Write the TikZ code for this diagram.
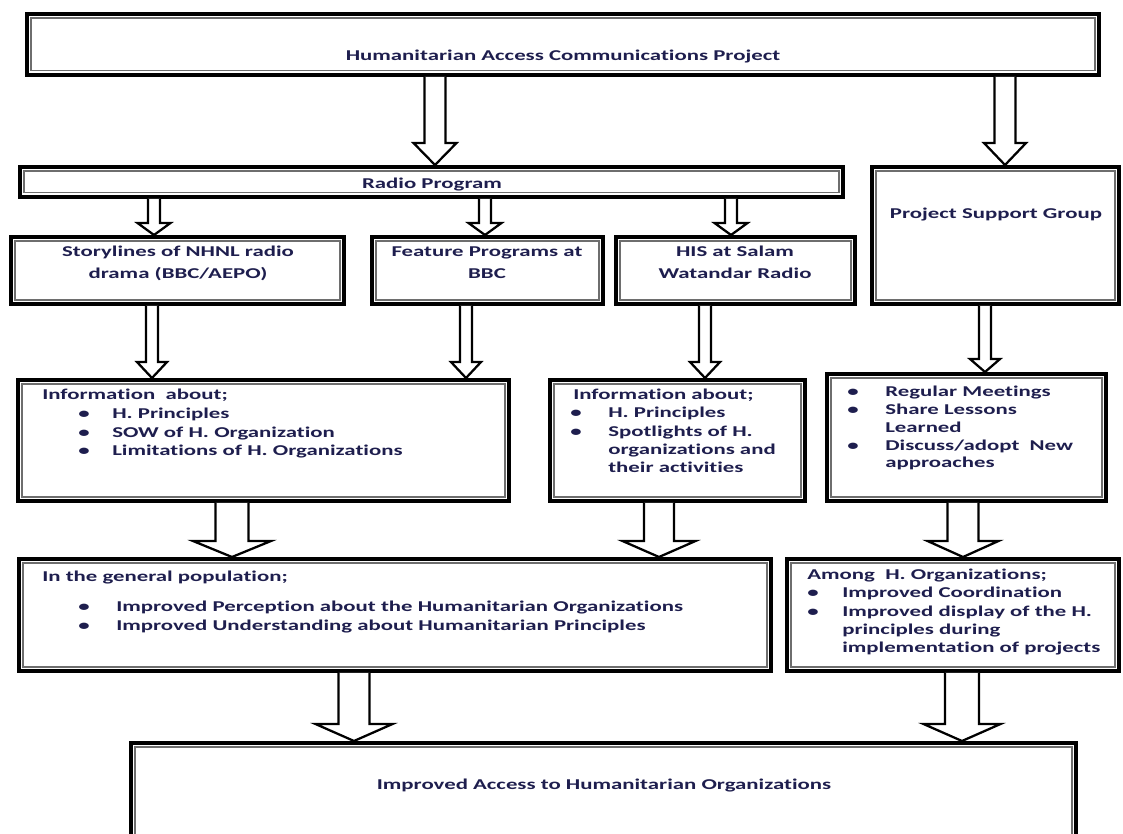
\documentclass[tikz,border=0pt]{standalone}
\usepackage{fontspec}
\newfontfamily\diafont{Carlito}[FakeStretch=1.52, Ligatures=CommonOff]
\usetikzlibrary{calc}
\definecolor{navy}{RGB}{30,30,78}
\definecolor{innerline}{RGB}{110,110,110}
\tikzset{
  box/.style={draw=black, line width=2.9pt, fill=white, inner sep=0pt, anchor=north west},
  inline/.style={draw=innerline, line width=0.8pt},
  txt/.style={text=navy, font=\diafont\bfseries\fontsize{11.25pt}{14pt}\selectfont, inner sep=0pt},
  blockarrow/.style={draw=black, line width=1.7pt, fill=white, line join=miter},
}
\newcommand\dgBox[5]{\node[box, minimum width={(#4-#2-3.9)*0.75pt}, minimum height={(#5-#3-3.9)*0.75pt}] (#1) at (#2,#3) {};}
\newcommand\dgC[4]{\node[txt,anchor=base] (#1) at (#2,#3) {#4};}
\newcommand\dgL[4]{\node[txt,anchor=base west] (#1) at (#2,#3) {#4};}
\newcommand\dgB[3]{\node[txt,anchor=base] (#1) at (#2,#3) {\textbullet};}
\newcommand\dgArrow[6]{%
  \draw[blockarrow] ($(#2.south -| #1)+(-#4,0)$) -- ($(#3.north -| #1)+(-#4,-#6)$)
    -- ($(#3.north -| #1)+(-#5,-#6)$) -- (#3.north -| #1)
    -- ($(#3.north -| #1)+(#5,-#6)$) -- ($(#3.north -| #1)+(#4,-#6)$)
    -- ($(#2.south -| #1)+(#4,0)$);}
\begin{document}
\begin{tikzpicture}[x=0.75pt, y=-0.75pt]
\useasboundingbox (0,0) rectangle (1123,834);
\fill[white] (0,0) rectangle (1123,834);
\clip (0,0) rectangle (1123,834);
% boxes
\dgBox{top}{25}{12}{1101}{77}
\dgBox{radio}{18}{165}{845}{199}
\dgBox{psg}{870}{165}{1121}{306}
\dgBox{story}{9}{235}{346}{306}
\dgBox{feat}{370}{235}{605}{306}
\dgBox{his}{614}{235}{857}{306}
\dgBox{info1}{16}{378}{511}{503}
\dgBox{info2}{548}{378}{807}{503}
\dgBox{psginfo}{825}{372}{1108}{503}
\dgBox{genpop}{17}{557}{773}{673}
\dgBox{among}{785}{557}{1121}{673}
\dgBox{final}{129}{741}{1078}{845}
\foreach \n in {top,radio,psg,story,feat,his,info1,info2,psginfo,genpop,among,final}
  \draw[inline] ([shift={(6,6)}]\n.north west) rectangle ([shift={(-6,-6)}]\n.south east);
% arrow x positions
\coordinate (xa) at (435,0);
\coordinate (xb) at (1005,0);
\coordinate (xc) at (154,0);
\coordinate (xd) at (485,0);
\coordinate (xe) at (731,0);
\coordinate (xf) at (152,0);
\coordinate (xg) at (466,0);
\coordinate (xh) at (705,0);
\coordinate (xi) at (985,0);
\coordinate (xj) at (232,0);
\coordinate (xk) at (659,0);
\coordinate (xl) at (963,0);
\coordinate (xm) at (354,0);
\coordinate (xn) at (962,0);
% arrows
\dgArrow{xa}{top}{radio}{10.5}{21.5}{22}
\dgArrow{xb}{top}{psg}{10.5}{21}{22}
\dgArrow{xc}{radio}{story}{6}{16.5}{12}
\dgArrow{xd}{radio}{feat}{6}{16.5}{12}
\dgArrow{xe}{radio}{his}{6}{16.5}{12}
\dgArrow{xf}{story}{info1}{6}{15}{16}
\dgArrow{xg}{feat}{info1}{6}{15}{16}
\dgArrow{xh}{his}{info2}{6}{15}{16}
\dgArrow{xi}{psg}{psginfo}{6}{15}{13}
\dgArrow{xj}{info1}{genpop}{16.5}{39}{16}
\dgArrow{xk}{info2}{genpop}{15}{36.5}{16}
\dgArrow{xl}{psginfo}{among}{15.5}{35.5}{16}
\dgArrow{xm}{genpop}{final}{15.5}{38.5}{17}
\dgArrow{xn}{among}{final}{17}{38.5}{17}
% texts
\dgC{t0}{563}{61}{Humanitarian Access Communications Project}
\dgC{t1}{432}{189}{Radio Program}
\dgC{t2a}{178}{256}{Storylines of NHNL radio}
\dgC{t2b}{178}{278}{drama (BBC/AEPO)}
\dgC{t3a}{487}{256}{Feature Programs at}
\dgC{t3b}{487}{278}{BBC}
\dgC{t4a}{735}{256}{HIS at Salam}
\dgC{t4b}{735}{278}{Watandar Radio}
\dgC{t5}{996}{219}{Project Support Group}
% info1
\dgL{t6}{42}{399}{Information~ about;}
\dgB{b6a}{84}{418}\dgL{t6a}{112}{418}{H. Principles}
\dgB{b6b}{84}{437}\dgL{t6b}{112}{437}{SOW of H. Organization}
\dgB{b6c}{84}{455}\dgL{t6c}{112}{455}{Limitations of H. Organizations}
% info2
\dgL{t7}{573}{399}{Information about;}
\dgB{b7a}{576}{417}\dgL{t7a}{608}{417}{H. Principles}
\dgB{b7b}{576}{436}\dgL{t7b}{608}{436}{Spotlights of H.}
\dgL{t7c}{608}{454}{organizations and}
\dgL{t7d}{608}{472}{their activities}
% psg info
\dgB{b8a}{853}{396}\dgL{t8a}{885}{396}{Regular Meetings}
\dgB{b8b}{853}{414}\dgL{t8b}{885}{414}{Share Lessons}
\dgL{t8c}{885}{432}{Learned}
\dgB{b8d}{853}{450}\dgL{t8d}{885}{450}{Discuss/adopt~ New}
\dgL{t8e}{885}{467}{approaches}
% general population
\dgL{t9}{42}{581}{In the general population;}
\dgB{b9a}{84}{611}\dgL{t9a}{116}{611}{Improved Perception about the Humanitarian Organizations}
\dgB{b9b}{84}{630}\dgL{t9b}{116}{630}{Improved Understanding about Humanitarian Principles}
% among
\dgL{t10}{807}{579}{Among~ H. Organizations;}
\dgB{b10a}{813}{597}\dgL{t10a}{842}{597}{Improved Coordination}
\dgB{b10b}{813}{616}\dgL{t10b}{842}{616}{Improved display of the H.}
\dgL{t10c}{842}{634}{principles during}
\dgL{t10d}{842}{652}{implementation of projects}
% final
\dgC{t11}{604}{789}{Improved Access to Humanitarian Organizations}
\end{tikzpicture}
\end{document}
